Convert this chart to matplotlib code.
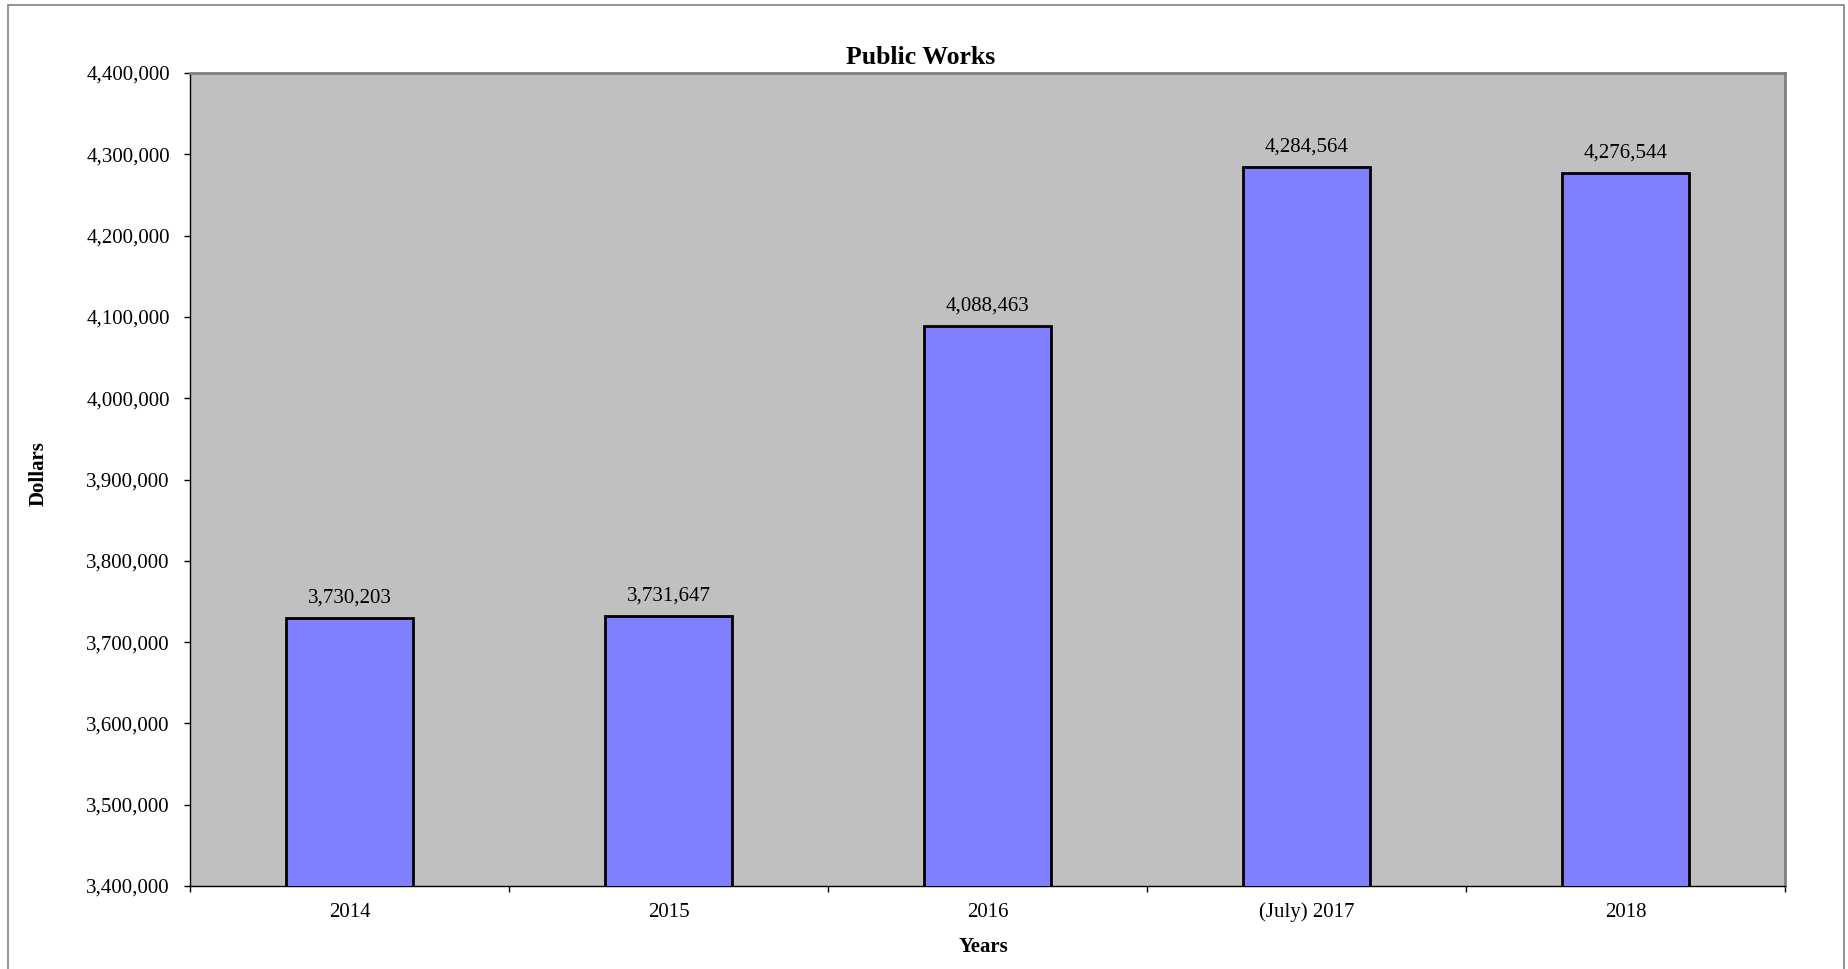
import matplotlib.pyplot as plt
from matplotlib.patches import Rectangle
from matplotlib.ticker import FuncFormatter

# Budget per year
anios = ["2014", "2015", "2016", "(July) 2017", "2018"]
dolares = [3730203, 3731647, 4088463, 4284564, 4276544]

plt.rcParams['font.family'] = ['Liberation Serif', 'DejaVu Serif']

fig = plt.figure(figsize=(18.48, 9.69), dpi=100)

# Marco exterior del grafico
fig.patches.append(Rectangle((8 / 1848, -0.05), (1844 - 8) / 1848, 1.05 - 5 / 969,
                             transform=fig.transFigure, fill=False,
                             edgecolor='#808080', linewidth=1.2))

ax = fig.add_axes([190 / 1848, 1 - 886 / 969, 1595 / 1848, (886 - 73) / 969])
ax.set_facecolor('#C0C0C0')

pos = list(range(len(anios)))
ax.bar(pos, dolares, width=0.4, color='#8080FF', edgecolor='black', linewidth=2, zorder=3)

for x, v in zip(pos, dolares):
    ax.annotate(f'{v:,}', (x, v), xytext=(0, 7.5), textcoords='offset points',
                ha='center', va='bottom', fontsize=15)

ax.set_xlim(-0.5, len(anios) - 0.5)
ax.set_ylim(3400000, 4400000)
ax.set_yticks(range(3400000, 4400001, 100000))
ax.yaxis.set_major_formatter(FuncFormatter(lambda v, p: f'{int(v):,}'))
ax.tick_params(axis='y', direction='out', length=4.5, width=1, pad=10, labelsize=15)

# Marcas del eje x entre categorias, etiquetas centradas
ax.set_xticks([i - 0.5 for i in range(len(anios) + 1)])
ax.set_xticklabels([])
ax.set_xticks(pos, minor=True)
ax.set_xticklabels(anios, minor=True)
ax.tick_params(axis='x', which='major', direction='out', length=4.5, width=1)
ax.tick_params(axis='x', which='minor', length=0, pad=12, labelsize=15)

for lado in ['left', 'bottom']:
    ax.spines[lado].set_color('black')
    ax.spines[lado].set_linewidth(1)
for lado in ['top', 'right']:
    ax.spines[lado].set_color('#808080')
    ax.spines[lado].set_linewidth(2)

fig.text(921 / 1848, 1 - 57.5 / 969, 'Public Works', ha='center', va='center',
         fontsize=18.5, fontweight='bold')
fig.text(38.5 / 1848, 1 - 474 / 969, 'Dollars', rotation=90, ha='center', va='center',
         fontsize=15, fontweight='bold')
fig.text(983 / 1848, 1 - 947.5 / 969, 'Years', ha='center', va='center',
         fontsize=15, fontweight='bold')

fig.savefig('out.png', dpi=100)
